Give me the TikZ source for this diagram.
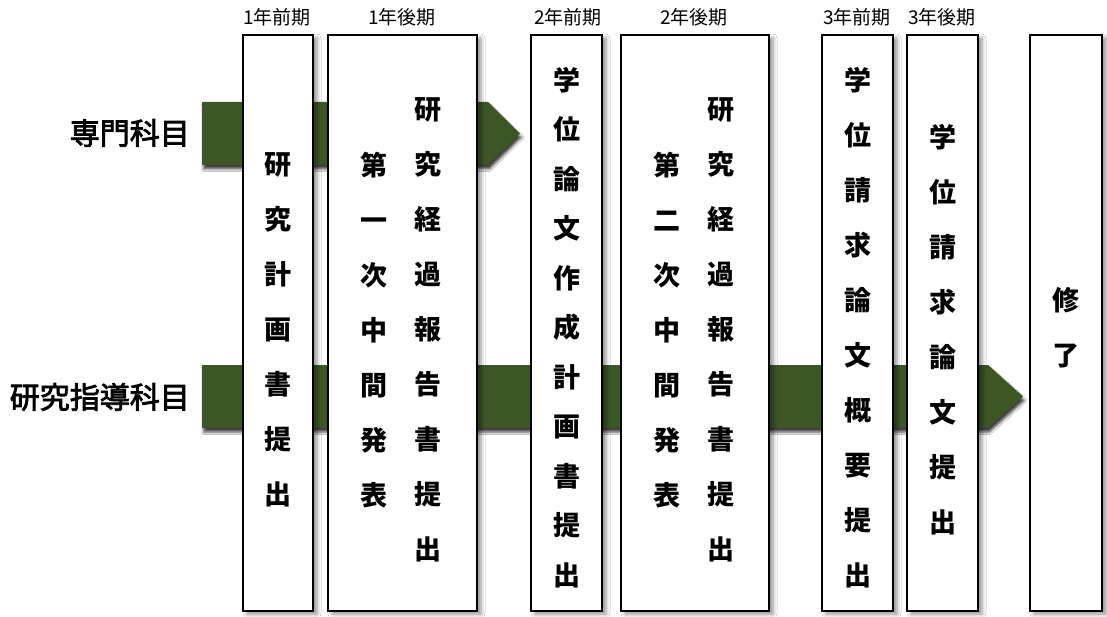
\documentclass[tikz,border=0pt]{standalone}
\usepackage{fontspec}
\newfontfamily\jp{Noto Sans CJK JP}
\newfontfamily\jpm[FakeBold=2.6]{Noto Sans CJK JP}
\usetikzlibrary{shadows.blur}
\definecolor{arrowgreen}{RGB}{60,87,37}
\begin{document}
\begin{tikzpicture}[x=1pt,y=-1pt,
  box/.style={draw=black, line width=2.2pt, fill=white, rectangle, inner sep=0pt, outer sep=0pt,
    anchor=north west, minimum height=576pt,
    blur shadow={shadow xshift=4pt, shadow yshift=-3pt, shadow opacity=45, shadow blur radius=4pt}},
  vtext/.style={font=\jp\bfseries\fontsize{27}{55}\selectfont, align=center, inner sep=0pt},
  vtextb/.style={font=\jp\bfseries\fontsize{27}{49.5}\selectfont, align=center, inner sep=0pt},
  head/.style={font=\jp\fontsize{19}{22}\selectfont, inner sep=0pt},
  side/.style={font=\jpm\fontsize{30}{32}\selectfont, inner sep=0pt, anchor=east},
  band/.style={fill=arrowgreen, draw=none,
    blur shadow={shadow xshift=1.5pt, shadow yshift=-4pt, shadow opacity=75, shadow blur radius=2.5pt}}
]
\useasboundingbox (0,0) rectangle (1107,617);
\fill[white] (0,0) rectangle (1107,617);

% arrows
\coordinate (a1s) at (202,102);
\coordinate (a1t) at (520,133.5);
\coordinate (a2s) at (202,365);
\coordinate (a2t) at (1023,396.5);
\path[band] (202,102) -- (488,102) -- (a1t) -- (488,165) -- (202,165) -- cycle;
\path[band] (202,365) -- (988,365) -- (a2t) -- (988,428) -- (202,428) -- cycle;

% side labels
\node[side] (l1) at (190,133) {専門科目};
\node[side] (l2) at (190,397) {研究指導科目};

% boxes
\node[box, minimum width=70pt] (b1) at (243,35) {};
\node[box, minimum width=149pt] (b2) at (328,35) {};
\node[box, minimum width=71pt] (b3) at (531,35) {};
\node[box, minimum width=148pt] (b4) at (621,35) {};
\node[box, minimum width=71pt] (b5) at (822,35) {};
\node[box, minimum width=71pt] (b6) at (907,35) {};
\node[box, minimum width=72pt] (b7) at (1030,35) {};

% period headers
\node[head] (h1) at (277,17.5) {1年前期};
\node[head] (h2) at (402,17.5) {1年後期};
\node[head] (h3) at (568,17.5) {2年前期};
\node[head] (h4) at (694,17.5) {2年後期};
\node[head] (h5) at (857,17.5) {3年前期};
\node[head] (h6) at (942,17.5) {3年後期};

% vertical texts
\node[vtext] (t1) at (278,330) {研\\究\\計\\画\\書\\提\\出};
\node[vtext] (t2r) at (428,330) {研\\究\\経\\過\\報\\告\\書\\提\\出};
\node[vtext] (t2l) at (374,330) {第\\一\\次\\中\\間\\発\\表};
\node[vtextb] (t3) at (567,327.5) {学\\位\\論\\文\\作\\成\\計\\画\\書\\提\\出};
\node[vtext] (t4r) at (721,330) {研\\究\\経\\過\\報\\告\\書\\提\\出};
\node[vtext] (t4l) at (667,330) {第\\二\\次\\中\\間\\発\\表};
\node[vtext] (t5) at (857.5,327.5) {学\\位\\請\\求\\論\\文\\概\\要\\提\\出};
\node[vtext] (t6) at (942.5,329.5) {学\\位\\請\\求\\論\\文\\提\\出};
\node[vtext] (t7) at (1066,327.5) {修\\了};
\end{tikzpicture}
\end{document}
